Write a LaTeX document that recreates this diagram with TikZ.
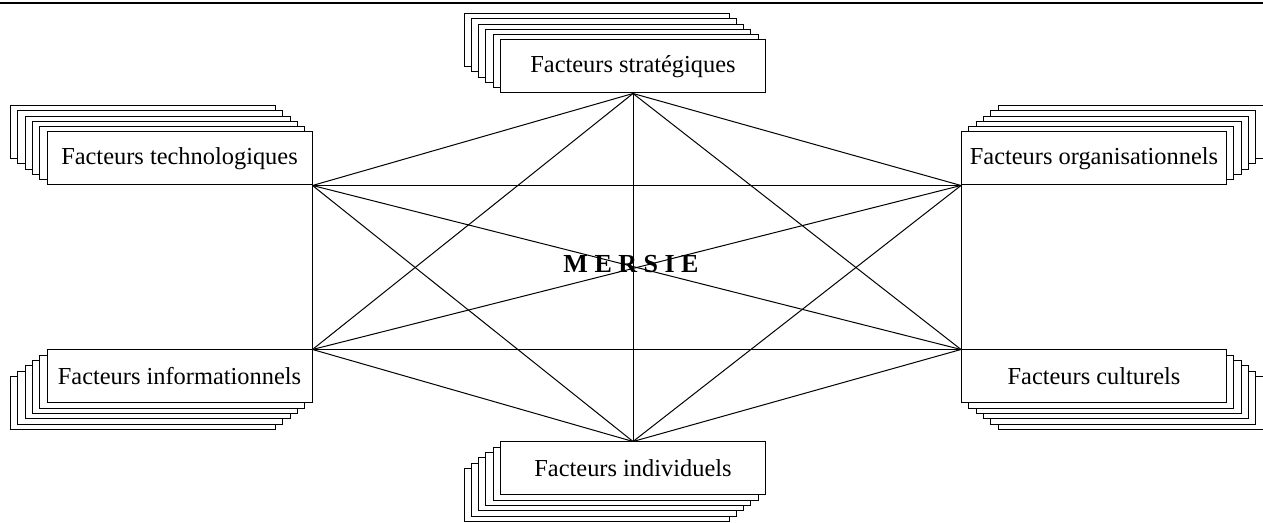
\documentclass[tikz,border=0pt]{standalone}
\usepackage{fontspec}
\setmainfont{Liberation Serif}
\usetikzlibrary{calc,positioning}

\begin{document}
\begin{tikzpicture}[x=0.5pt, y=0.5pt]
  \useasboundingbox (0,0) rectangle (1263,523);

  % ---- Styles ---------------------------------------------------
  \tikzstyle{feuille}=[draw, fill=white, line width=0.5pt,
                       minimum width=132.5pt, minimum height=26.5pt,
                       inner sep=0pt, font=\fontsize{12.2}{14}\selectfont]
  \tikzstyle{lien}=[line width=0.5pt]

  % ---- Rule along the top ---------------------------------------
  \draw[line width=1pt] (0,519.7) -- (1263,519.7);

  % ---- Stacks of factor sheets (back sheets first) --------------
  \foreach \nom/\cx/\cy/\dx/\dy/\txt in {
      strat/633/456.5/-7.3/5.3/{Facteurs stratégiques},
      techno/179.5/364.5/-7.3/5.3/{Facteurs technologiques},
      orga/1094/364.5/7.3/5.3/{Facteurs organisationnels},
      info/179.5/146.5/-7.3/-5.3/{Facteurs informationnels},
      cult/1094/146.5/7.3/-5.3/{Facteurs culturels},
      indiv/633/54.5/-7.3/-5.3/{Facteurs individuels}}{
    \foreach \k in {5,4,...,1}
      \node[feuille] at ({\cx+\k*(\dx)}, {\cy+\k*(\dy)}) {};
    \node[feuille] (\nom) at (\cx,\cy) {\txt};
  }

  % ---- Every factor linked to every other -----------------------
  \foreach \a/\b in {strat.south/techno.south east, strat.south/orga.south west,
      strat.south/info.north east, strat.south/cult.north west,
      strat.south/indiv.north,
      techno.south east/orga.south west, techno.south east/info.north east,
      techno.south east/cult.north west, techno.south east/indiv.north,
      orga.south west/info.north east, orga.south west/cult.north west,
      orga.south west/indiv.north,
      info.north east/cult.north west, info.north east/indiv.north,
      cult.north west/indiv.north}
    \draw[lien] (\a) -- (\b);

  % ---- Centre label ---------------------------------------------
  \node[font=\bfseries\fontsize{13}{15}\selectfont] (mersie) at (631,258.5)
    {M E R S I E};

\end{tikzpicture}
\end{document}
